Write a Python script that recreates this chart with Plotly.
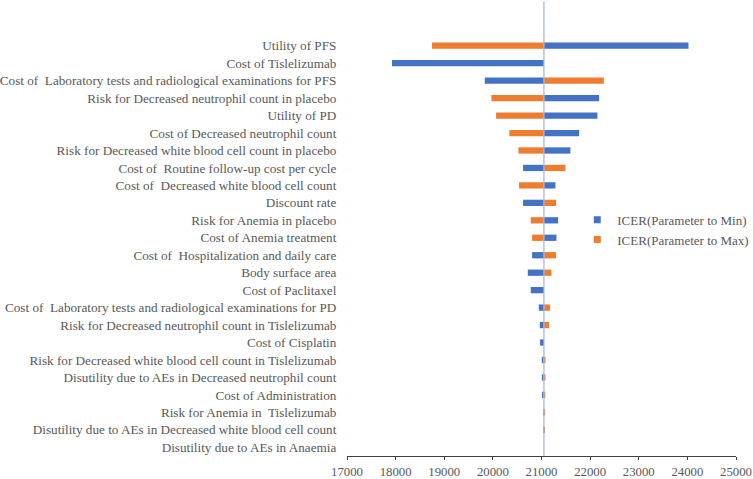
import plotly.graph_objects as go

# one-way sensitivity analysis (tornado), ICER base case
base_icer = 21050

parameters = [
    "Utility of PFS",
    "Cost of Tislelizumab",
    "Cost of  Laboratory tests and radiological examinations for PFS",
    "Risk for Decreased neutrophil count in placebo",
    "Utility of PD",
    "Cost of Decreased neutrophil count",
    "Risk for Decreased white blood cell count in placebo",
    "Cost of  Routine follow-up cost per cycle",
    "Cost of  Decreased white blood cell count",
    "Discount rate",
    "Risk for Anemia in placebo",
    "Cost of Anemia treatment",
    "Cost of  Hospitalization and daily care",
    "Body surface area",
    "Cost of Paclitaxel",
    "Cost of  Laboratory tests and radiological examinations for PD",
    "Risk for Decreased neutrophil count in Tislelizumab",
    "Cost of Cisplatin",
    "Risk for Decreased white blood cell count in Tislelizumab",
    "Disutility due to AEs in Decreased neutrophil count",
    "Cost of Administration",
    "Risk for Anemia in  Tislelizumab",
    "Disutility due to AEs in Decreased white blood cell count",
    "Disutility due to AEs in Anaemia",
]

icer_min = [24023, 17926, 19833, 22185, 22150, 21774, 21595, 20621,
            21286, 20621, 21342, 21307, 20807, 20718, 20779, 20944,
            20965, 20971, 21005, 21008, 21015, 21035, 21050, 21050]
icer_max = [18749, 21050, 22282, 19970, 20066, 20340, 20525, 21492,
            20539, 21300, 20779, 20807, 21300, 21204, 21050, 21177,
            21156, 21050, 21082, 21082, 21078, 21075, 21064, 21050]

labels = [p.replace("  ", "\u00a0 ") for p in parameters]
font = "Liberation Serif, Times New Roman, serif"
blue, orange = "#4472C4", "#ED7D31"

fig = go.Figure()
fig.add_trace(go.Bar(
    y=labels, x=[v - base_icer for v in icer_min], base=base_icer,
    orientation="h", name="ICER(Parameter to Min)", showlegend=False,
    marker=dict(color=blue, line=dict(width=0)), width=0.36,
))
fig.add_trace(go.Bar(
    y=labels, x=[v - base_icer for v in icer_max], base=base_icer,
    orientation="h", name="ICER(Parameter to Max)", showlegend=False,
    marker=dict(color=orange, line=dict(width=0)), width=0.36,
))
# small square legend keys like Excel's
for name, col in [("ICER(Parameter to Min)", blue), ("ICER(Parameter to Max)", orange)]:
    fig.add_trace(go.Scatter(x=[None], y=[None], mode="markers", name=name,
                             marker=dict(symbol="square", size=7, color=col)))

# vertical axis line at the base case
fig.add_shape(type="line", xref="x", yref="paper",
              x0=base_icer, x1=base_icer, y0=0, y1=1.085,
              line=dict(color="#A9B8DA", width=1.3))

fig.update_layout(
    width=753, height=479,
    margin=dict(l=347, r=17, t=37, b=23, autoexpand=False),
    barmode="overlay",
    plot_bgcolor="white", paper_bgcolor="white",
    font=dict(family=font, size=13, color="#595959"),
    legend=dict(x=0.592, y=0.54, xanchor="left", yanchor="middle",
                bgcolor="rgba(0,0,0,0)", font=dict(size=13, color="#595959"),
                tracegroupgap=0, itemwidth=30),
    xaxis=dict(range=[17000, 25000], dtick=1000, tick0=17000, tickformat="d",
               showgrid=False, zeroline=False, automargin=False,
               showline=True, linecolor="#404040", linewidth=1.3,
               ticks="outside", ticklen=3, tickcolor="#404040",
               tickfont=dict(size=12.8, color="#595959")),
    yaxis=dict(autorange="reversed", showgrid=False, zeroline=False,
               showline=False, ticks="outside", ticklen=7, automargin=False,
               tickcolor="rgba(0,0,0,0)",
               tickfont=dict(size=13.2, color="#595959")),
)

fig.write_html("out.html", config={"displayModeBar": False},
               post_script="document.body.style.margin = '0';")
